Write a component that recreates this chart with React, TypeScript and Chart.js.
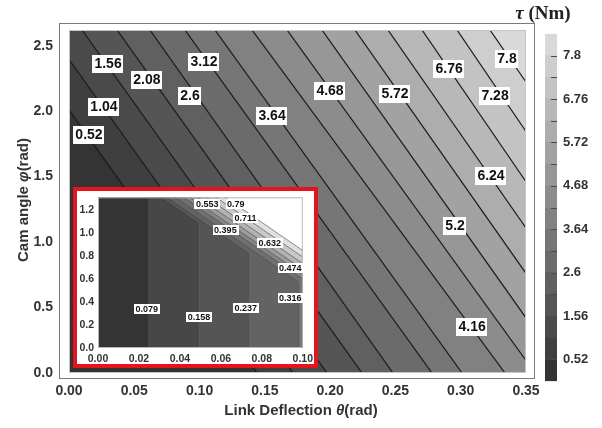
import React, { useEffect, useRef } from "react";
import { Chart, registerables } from "chart.js";

Chart.register(...registerables);

// ---------------- main contour plot data ----------------
const THETA_MAX = 0.35;
const PHI_MAX = 2.62;
const xTickValues = [0, 0.05, 0.1, 0.15, 0.2, 0.25, 0.3, 0.35];
const yTickValues = [0, 0.5, 1.0, 1.5, 2.0, 2.5];

const contourLevels = [0.52, 1.04, 1.56, 2.08, 2.6, 3.12, 3.64, 4.16, 4.68, 5.2, 5.72, 6.24, 6.76, 7.28, 7.8];
// theta where each contour meets phi = PHI_MAX (top) and phi = 0 (bottom, extrapolated if outside)
const contourThetaAtTop = [-0.0437, -0.0161, 0.01, 0.0368, 0.062, 0.0888, 0.1118, 0.1402, 0.167, 0.1938, 0.219, 0.2443, 0.2704, 0.2972, 0.3224];
const contourThetaAtBottom = [0.144, 0.1716, 0.1976, 0.2244, 0.2481, 0.278, 0.301, 0.3339, 0.3569, 0.3799, 0.4036, 0.4274, 0.4503, 0.4756, 0.5047];
const bandGray = [52, 63, 74, 85, 96, 107, 118, 129, 140, 151, 162, 173, 184, 195, 206, 217];

const labelText = ["1.56", "2.08", "3.12", "2.6", "1.04", "0.52", "3.64", "4.68", "5.72", "6.76", "7.8", "7.28", "6.24", "5.2", "4.16"];
const labelTheta = [0.0299, 0.0597, 0.1034, 0.0927, 0.0268, 0.0153, 0.1555, 0.1999, 0.2497, 0.2911, 0.3355, 0.3263, 0.3232, 0.2957, 0.3087];
const labelPhi = [2.361, 2.238, 2.376, 2.116, 2.032, 1.818, 1.963, 2.154, 2.131, 2.322, 2.399, 2.117, 1.505, 1.123, 0.351];

// ---------------- colour bar ----------------
const COLORBAR_MAX = 8.32;
const colorbarBoundaries = [0, ...contourLevels, COLORBAR_MAX];

// ---------------- inset data ----------------
const INSET_THETA_MAX = 0.1;
const INSET_PHI_MAX = 1.314;
const insetXTicks = [0, 0.02, 0.04, 0.06, 0.08, 0.1];
const insetYTicks = [0, 0.2, 0.4, 0.6, 0.8, 1.0, 1.2];
const insetLevels = [0.079, 0.158, 0.237, 0.316, 0.395, 0.474, 0.553, 0.632, 0.711, 0.79];
const insetVerticalTheta: (number | null)[] = [0.0243, 0.0488, 0.0734, 0.0978, null, null, null, null, null, null];
const insetBendPhi: (number | null)[] = [null, 1.089, 0.826, 0.575, null, null, null, null, null, null];
const insetTopTheta: (number | null)[] = [null, 0.0304, 0.0336, 0.0378, 0.0419, 0.0451, 0.0488, 0.053, 0.0576, 0.0622];
const insetRightPhi: (number | null)[] = [null, null, null, null, 0.6, 0.64, 0.685, 0.736, 0.793, 0.85];
const insetBandGray = [52, 71, 85, 99, 112, 134, 156, 178, 200, 224, 255];
const insetLabelText = ["0.079", "0.158", "0.237", "0.316", "0.474", "0.632", "0.395", "0.711", "0.553", "0.79"];
const insetLabelTheta = [0.0238, 0.0493, 0.0721, 0.0939, 0.0939, 0.0839, 0.0622, 0.072, 0.0533, 0.0673];
const insetLabelPhi = [0.338, 0.266, 0.351, 0.437, 0.698, 0.917, 1.03, 1.132, 1.257, 1.257];

const gray = (g: number) => `rgb(${g},${g},${g})`;
const SANS = '"Liberation Sans", Arial, sans-serif';

function labelPlugin(id: string, texts: string[], xs: number[], ys: number[], font: string, padX: number, boxH: number) {
  return {
    id,
    afterDatasetsDraw(chart: any) {
      const { ctx } = chart;
      const x = chart.scales.x;
      const y = chart.scales.y;
      ctx.save();
      ctx.font = font;
      ctx.textAlign = "center";
      ctx.textBaseline = "middle";
      texts.forEach((t, i) => {
        const px = x.getPixelForValue(xs[i]);
        const py = y.getPixelForValue(ys[i]);
        const w = ctx.measureText(t).width + padX * 2;
        ctx.fillStyle = "#ffffff";
        ctx.fillRect(Math.round(px - w / 2), Math.round(py - boxH / 2), Math.round(w), boxH);
        ctx.fillStyle = "#111111";
        ctx.fillText(t, px, py + 0.5);
      });
      ctx.restore();
    },
  };
}

function areaFramePlugin(id: string, color: string) {
  return {
    id,
    afterDatasetsDraw(chart: any) {
      const { ctx, chartArea: a } = chart;
      ctx.save();
      ctx.strokeStyle = color;
      ctx.lineWidth = 1;
      ctx.strokeRect(a.left + 0.5, a.top + 0.5, a.right - a.left - 1, a.bottom - a.top - 1);
      ctx.restore();
    },
  };
}

function axisOpts(min: number, max: number, values: number[], digits: number, padding: number, font: any, fit: (s: any) => void) {
  return {
    type: "linear",
    min,
    max,
    afterBuildTicks: (s: any) => {
      s.ticks = values.map((v) => ({ value: v }));
    },
    afterFit: fit,
    grid: { display: false, drawTicks: false },
    border: { display: false },
    ticks: {
      autoSkip: false,
      maxRotation: 0,
      padding,
      color: "#333333",
      font,
      callback: (v: any) => Number(v).toFixed(digits),
    },
  };
}

export default function App() {
  const mainRef = useRef<HTMLCanvasElement>(null);
  const insetRef = useRef<HTMLCanvasElement>(null);
  const barRef = useRef<HTMLCanvasElement>(null);

  useEffect(() => {
    // ---------- main ----------
    const FAR_LO = -1;
    const FAR_HI = 4;
    const FAR_X = 2;
    const thetaOn = (i: number, phi: number) =>
      contourThetaAtBottom[i] + (contourThetaAtTop[i] - contourThetaAtBottom[i]) * (phi / PHI_MAX);

    const mainDatasets: any[] = [
      {
        data: [
          { x: -1, y: FAR_LO },
          { x: FAR_X, y: FAR_LO },
          { x: FAR_X, y: FAR_HI },
          { x: -1, y: FAR_HI },
        ],
        showLine: true,
        fill: "shape",
        backgroundColor: gray(bandGray[0]),
        borderWidth: 0,
        borderColor: "rgba(0,0,0,0)",
        order: 1000,
      },
      ...contourLevels.map((_, i) => ({
        data: [
          { x: FAR_X, y: FAR_LO },
          { x: thetaOn(i, FAR_LO), y: FAR_LO },
          { x: thetaOn(i, FAR_HI), y: FAR_HI },
          { x: FAR_X, y: FAR_HI },
        ],
        showLine: true,
        fill: "shape",
        backgroundColor: gray(bandGray[i + 1]),
        borderWidth: 0,
        borderColor: "rgba(0,0,0,0)",
        order: 900 - i,
      })),
      ...contourLevels.map((_, i) => ({
        data: [
          { x: thetaOn(i, FAR_HI), y: FAR_HI },
          { x: thetaOn(i, FAR_LO), y: FAR_LO },
        ],
        showLine: true,
        fill: false,
        borderColor: "#1c1c1c",
        borderWidth: 1.2,
        order: 0,
      })),
    ];

    const mainFont = { family: SANS, size: 14, weight: "bold" };
    const main = new Chart(mainRef.current as HTMLCanvasElement, {
      type: "scatter",
      data: { datasets: mainDatasets },
      options: {
        animation: false,
        responsive: false,
        events: [],
        layout: { padding: { top: 30, right: 76, left: 0, bottom: 0 } },
        plugins: { legend: { display: false }, tooltip: { enabled: false } },
        elements: { point: { radius: 0 }, line: { tension: 0 } },
        scales: {
          x: axisOpts(0, THETA_MAX, xTickValues, 2, 10, mainFont, (s: any) => {
            s.height = 55;
          }),
          y: axisOpts(0, PHI_MAX, yTickValues, 1, 16, mainFont, (s: any) => {
            s.width = 69;
          }),
        },
      } as any,
      plugins: [
        areaFramePlugin("mainFrame", "#c4c4c4"),
        labelPlugin("mainLabels", labelText, labelTheta, labelPhi, `bold 14px ${SANS}`, 2, 18),
      ],
    });

    // ---------- inset ----------
    const I_LO = -3;
    const I_HI = 3;
    const I_X = 1;
    const insetPolyline = (i: number) => {
      const v = insetVerticalTheta[i];
      if (v !== null) {
        const b = insetBendPhi[i];
        if (b === null) return [{ x: v, y: I_LO }, { x: v, y: I_HI }];
        const t = insetTopTheta[i] as number;
        const k = (I_HI - b) / (INSET_PHI_MAX - b);
        return [{ x: v, y: I_LO }, { x: v, y: b }, { x: v + (t - v) * k, y: I_HI }];
      }
      const t = insetTopTheta[i] as number;
      const r = insetRightPhi[i] as number;
      const thetaAt = (phi: number) => t + (INSET_THETA_MAX - t) * (phi - INSET_PHI_MAX) / (r - INSET_PHI_MAX);
      return [{ x: thetaAt(I_LO), y: I_LO }, { x: thetaAt(I_HI), y: I_HI }];
    };

    const insetDatasets: any[] = [
      {
        data: [
          { x: -1, y: I_LO },
          { x: I_X, y: I_LO },
          { x: I_X, y: I_HI },
          { x: -1, y: I_HI },
        ],
        showLine: true,
        fill: "shape",
        backgroundColor: gray(insetBandGray[0]),
        borderWidth: 0,
        borderColor: "rgba(0,0,0,0)",
        order: 1000,
      },
      ...insetLevels.map((_, i) => ({
        data: [{ x: I_X, y: I_LO }, ...insetPolyline(i), { x: I_X, y: I_HI }],
        showLine: true,
        fill: "shape",
        backgroundColor: gray(insetBandGray[i + 1]),
        borderWidth: 0,
        borderColor: "rgba(0,0,0,0)",
        order: 900 - i,
      })),
      ...insetLevels.map((_, i) => ({
        data: insetPolyline(i),
        showLine: true,
        fill: false,
        borderColor: i < 4 ? "rgba(40,40,40,0.35)" : "rgba(70,70,70,0.75)",
        borderWidth: 0.8,
        order: 0,
      })),
    ];

    const insetFont = { family: SANS, size: 10.5, weight: "bold" };
    const inset = new Chart(insetRef.current as HTMLCanvasElement, {
      type: "scatter",
      data: { datasets: insetDatasets },
      options: {
        animation: false,
        responsive: false,
        events: [],
        layout: { padding: { top: 6, right: 13, left: 0, bottom: 0 } },
        plugins: { legend: { display: false }, tooltip: { enabled: false } },
        elements: { point: { radius: 0 }, line: { tension: 0 } },
        scales: {
          x: axisOpts(0, INSET_THETA_MAX, insetXTicks, 2, 5, insetFont, (s: any) => {
            s.height = 25;
          }),
          y: axisOpts(0, INSET_PHI_MAX, insetYTicks, 1, 4, insetFont, (s: any) => {
            s.width = 25;
          }),
        },
      } as any,
      plugins: [
        areaFramePlugin("insetFrame", "#b8b8b8"),
        labelPlugin("insetLabels", insetLabelText, insetLabelTheta, insetLabelPhi, `bold 9px ${SANS}`, 1.5, 10),
      ],
    });

    // ---------- colour bar ----------
    const barDatasets = colorbarBoundaries.slice(1).map((b, i) => ({
      data: [b - colorbarBoundaries[i]],
      backgroundColor: gray(bandGray[i]),
      borderWidth: 0,
      barPercentage: 1,
      categoryPercentage: 1,
    }));
    const barTicksPlugin = {
      id: "barTicks",
      afterDatasetsDraw(chart: any) {
        const { ctx, chartArea: a } = chart;
        const y = chart.scales.y;
        ctx.save();
        ctx.strokeStyle = "#4a4a4a";
        ctx.lineWidth = 1;
        contourLevels.forEach((v) => {
          const py = Math.round(y.getPixelForValue(v)) + 0.5;
          ctx.beginPath();
          ctx.moveTo(a.right - 6, py);
          ctx.lineTo(a.right, py);
          ctx.stroke();
        });
        ctx.restore();
      },
    };
    const bar = new Chart(barRef.current as HTMLCanvasElement, {
      type: "bar",
      data: { labels: [""], datasets: barDatasets },
      options: {
        animation: false,
        responsive: false,
        events: [],
        layout: { padding: { top: 10, bottom: 11, left: 5, right: 0 } },
        plugins: { legend: { display: false }, tooltip: { enabled: false } },
        scales: {
          x: { stacked: true, display: false },
          y: {
            stacked: true,
            position: "right",
            min: 0,
            max: COLORBAR_MAX,
            afterBuildTicks: (s: any) => {
              s.ticks = contourLevels.map((v) => ({ value: v }));
            },
            afterFit: (s: any) => {
              s.width = 45;
            },
            grid: { display: false, drawTicks: false },
            border: { display: false },
            ticks: {
              autoSkip: false,
              padding: 6,
              color: "#333333",
              font: { family: SANS, size: 13, weight: "bold" },
              callback: (v: any, idx: number) => (idx % 2 === 0 ? String(contourLevels[idx]) : ""),
            },
          },
        },
      } as any,
      plugins: [barTicksPlugin],
    });

    return () => {
      main.destroy();
      inset.destroy();
      bar.destroy();
    };
  }, []);

  const titleFont = `bold 15px ${SANS}`;
  return (
    <div style={{ position: "fixed", left: 0, top: 0, width: 602, height: 428, background: "#fff", overflow: "hidden" }}>
      <canvas ref={mainRef} width={602} height={428} style={{ position: "absolute", left: 0, top: 0 }} />
      <div
        style={{
          position: "absolute",
          left: 59,
          top: 23,
          width: 476,
          height: 356,
          border: "1.5px solid #7a7a7a",
          boxSizing: "border-box",
          pointerEvents: "none",
        }}
      />
      <div
        style={{
          position: "absolute",
          left: 73,
          top: 187,
          width: 245,
          height: 181,
          border: "4.5px solid #e3141b",
          background: "#ffffff",
          boxSizing: "border-box",
        }}
      />
      <canvas ref={insetRef} width={245} height={186} style={{ position: "absolute", left: 73, top: 187 }} />
      <canvas ref={barRef} width={62} height={375} style={{ position: "absolute", left: 540, top: 20 }} />
      <div
        style={{
          position: "absolute",
          left: 0,
          top: 401,
          width: 602,
          textAlign: "center",
          font: titleFont,
          lineHeight: "18px",
          color: "#333",
        }}
      >
        Link Deflection <i>θ</i>(rad)
      </div>
      <div
        style={{
          position: "absolute",
          left: -77,
          top: 191,
          width: 200,
          height: 18,
          textAlign: "center",
          font: titleFont,
          lineHeight: "18px",
          color: "#333",
          transform: "rotate(-90deg)",
          transformOrigin: "50% 50%",
        }}
      >
        Cam angle <i>φ</i>(rad)
      </div>
      <div
        style={{
          position: "absolute",
          left: 503,
          top: 3,
          width: 80,
          textAlign: "center",
          font: 'bold 19px "Liberation Serif", "Times New Roman", serif',
          lineHeight: "20px",
          color: "#222",
        }}
      >
        <i>τ</i> (Nm)
      </div>
    </div>
  );
}
